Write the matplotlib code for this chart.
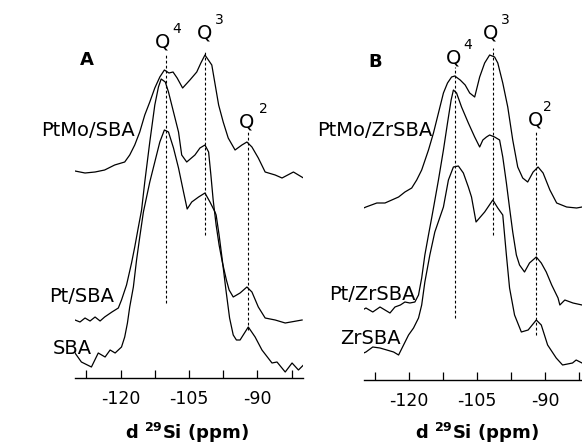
import matplotlib
matplotlib.use('Agg')
import matplotlib.pyplot as plt

# panel A spectra: chemical shift (ppm) and intensity (a.u.)
ptmo_sba_ppm = [-130.0, -127.8, -125.6, -123.5, -121.3, -119.1, -118.0, -116.9, -115.8, -114.7,
                -113.6, -112.5, -111.4, -110.4, -109.4, -108.5, -107.6, -106.4, -104.8, -103.3,
                -102.4, -101.5, -100.0, -98.5, -97.5, -96.4, -94.9, -93.4, -92.3, -91.2,
                -89.8, -88.3, -86.1, -84.6, -82.1, -79.9]
ptmo_sba_int = [207, 205, 206, 208, 213, 216, 223, 233, 246, 263,
                276, 290, 301, 308, 305, 306, 300, 290, 298, 306,
                315, 323, 313, 273, 256, 240, 228, 233, 236, 231,
                220, 206, 203, 200, 206, 200]

pt_sba_ppm = [-130.0, -128.9, -127.8, -126.7, -125.6, -124.5, -123.5, -121.9, -120.5, -119.8,
              -118.7, -117.6, -116.9, -116.1, -115.4, -114.7, -113.6, -112.5, -111.7, -111.1,
              -110.2, -109.5, -108.4, -107.3, -106.6, -105.5, -103.7, -102.6, -101.5, -100.7,
              -100.2, -99.7, -99.05, -98.4, -97.7, -96.8, -96.2, -95.3, -93.8, -92.3,
              -91.2, -89.8, -88.3, -86.1, -83.9, -80.2]
pt_sba_int = [58, 56, 60, 57, 61, 57, 61, 66, 70, 78,
              93, 115, 131, 151, 168, 196, 236, 273, 291, 299,
              296, 286, 266, 246, 223, 216, 223, 230, 233, 226,
              203, 178, 153, 133, 116, 98, 88, 81, 85, 91,
              86, 71, 60, 58, 55, 58]

sba_ppm = [-130.0, -128.6, -126.4, -124.9, -123.4, -122.3, -121.2, -119.8, -119.1, -118.5,
           -118.0, -117.2, -116.5, -115.8, -115.0, -113.6, -112.5, -111.4, -110.4, -109.5,
           -108.4, -107.3, -106.2, -105.4, -104.4, -102.9, -101.5, -100.4, -99.3, -99.05,
           -98.4, -97.7, -96.9, -96.1, -95.3, -94.6, -93.8, -92.0, -90.5, -89.0,
           -86.8, -85.7, -83.9, -82.4, -81.0, -79.9]
sba_int = [25, 16, 11, 25, 21, 28, 25, 31, 41, 55,
           71, 91, 118, 141, 166, 196, 216, 236, 248, 246,
           230, 210, 186, 169, 176, 181, 185, 176, 166, 163,
           143, 118, 88, 60, 43, 38, 38, 51, 41, 28,
           15, 16, 6, 15, 8, 13]

# panel B spectra
ptmo_zr_ppm = [-131.0, -129.5, -127.1, -125.3, -123.8, -122.3, -120.9, -119.4, -118.3, -117.2,
               -115.7, -114.6, -113.5, -112.4, -111.5, -110.6, -109.9, -108.7, -107.6, -106.6,
               -105.5, -104.4, -103.3, -102.2, -101.1, -100.4, -99.3, -98.2, -97.1, -96.0,
               -94.9, -93.8, -92.6, -91.5, -90.4, -88.9, -87.4, -85.2, -83.0, -81.8, -80.0]
ptmo_zr_int = [170, 173, 177, 177, 180, 183, 188, 192, 200, 210,
               230, 247, 267, 287, 297, 303, 304, 300, 295, 287,
               283, 303, 317, 325, 323, 317, 297, 273, 240, 213,
               202, 198, 208, 213, 207, 190, 177, 173, 172, 173, 172]

pt_zr_ppm = [-131.0, -129.5, -128.0, -126.4, -125.3, -124.2, -123.1, -121.9, -120.9, -119.8,
             -118.7, -117.9, -117.2, -116.5, -115.7, -115.0, -114.6, -113.5, -112.4, -111.5,
             -110.7, -110.2, -109.5, -108.4, -106.9, -106.2, -105.5, -104.4, -103.7, -102.9,
             -102.2, -101.1, -100.0, -99.3, -98.5, -97.8, -97.1, -96.3, -95.6, -94.5,
             -93.4, -91.9, -90.8, -89.7, -88.5, -87.1, -86.7, -85.6, -83.8, -81.8, -80.0]
pt_zr_int = [68, 72, 68, 73, 70, 67, 73, 75, 78, 77,
             78, 85, 102, 125, 145, 162, 172, 200, 230, 257,
             280, 290, 287, 273, 257, 250, 243, 233, 240, 243,
             245, 243, 240, 223, 197, 172, 148, 125, 115, 108,
             117, 123, 117, 108, 95, 82, 75, 80, 77, 75, 76]

zr_ppm = [-131.0, -129.5, -128.0, -126.4, -124.9, -123.4, -122.3, -121.2, -120.1, -119.0,
          -117.9, -117.2, -116.5, -115.4, -114.3, -112.4, -111.3, -110.2, -109.1, -108.0,
          -106.9, -106.2, -105.2, -103.3, -101.5, -100.4, -99.3, -98.5, -97.8, -96.7,
          -95.2, -93.7, -91.9, -90.8, -89.4, -87.5, -86.1, -83.9, -83.1, -81.8, -80.0]
zr_int = [25, 28, 33, 32, 30, 28, 25, 35, 45, 52,
          62, 75, 98, 125, 148, 173, 200, 213, 214, 207,
          193, 183, 158, 168, 180, 172, 165, 125, 92, 65,
          48, 50, 60, 55, 35, 22, 15, 17, 20, 17, 18]

tick_pos = [-127.5, -120, -112.5, -105, -97.5, -90, -82.5]
tick_lab = ['', '-120', '', '-105', '', '-90', '']

fig = plt.figure(figsize=(5.82, 4.45), dpi=100)
axA = fig.add_axes([75 / 582, 1 - 378 / 445, 228 / 582, 378 / 445])
axB = fig.add_axes([363.7 / 582, 1 - 380 / 445, 226.5 / 582, 380 / 445])


def style(ax, top):
    ax.set_xlim(-130, -80)
    ax.set_ylim(0, top)
    for s in ['top', 'left', 'right']:
        ax.spines[s].set_visible(False)
    ax.spines['bottom'].set_linewidth(1.0)
    ax.set_yticks([])
    ax.set_xticks(tick_pos)
    ax.set_xticklabels(tick_lab)
    ax.tick_params(axis='x', direction='in', length=6, width=0.9, pad=9, labelsize=12.5)
    ax.patch.set_visible(False)


style(axA, 378)
style(axB, 380)

lw = 0.9
axA.plot(ptmo_sba_ppm, ptmo_sba_int, color='black', lw=lw)
axA.plot(pt_sba_ppm, pt_sba_int, color='black', lw=lw)
axA.plot(sba_ppm, sba_int, color='black', lw=lw)
axB.plot(ptmo_zr_ppm, ptmo_zr_int, color='black', lw=lw)
axB.plot(pt_zr_ppm, pt_zr_int, color='black', lw=lw)
axB.plot(zr_ppm, zr_int, color='black', lw=lw)

dash = dict(color='black', lw=0.8, ls=(0, (2.5, 2)))
axA.plot([-110.1, -110.1], [75, 323], **dash)
axA.plot([-101.5, -101.5], [143, 328], **dash)
axA.plot([-92.1, -92.1], [48, 248], **dash)
axB.plot([-109.9, -109.9], [62, 313], **dash)
axB.plot([-101.4, -101.4], [145, 332], **dash)
axB.plot([-91.9, -91.9], [45, 248], **dash)

fs = 14
axA.text(-127.4, 318, 'A', fontsize=13, fontweight='bold', ha='center', va='center')
axA.text(-116.9, 248, 'PtMo/SBA', fontsize=fs, ha='right', va='center')
axA.text(-121.4, 81, 'Pt/SBA', fontsize=fs, ha='right', va='center')
axA.text(-126.3, 30, 'SBA', fontsize=fs, ha='right', va='center')
axA.text(-110.7, 336, 'Q', fontsize=fs, ha='center', va='center')
axA.text(-107.6, 349, '4', fontsize=10, ha='center', va='center')
axA.text(-101.5, 345, 'Q', fontsize=fs, ha='center', va='center')
axA.text(-98.4, 358, '3', fontsize=10, ha='center', va='center')
axA.text(-92.3, 256, 'Q', fontsize=fs, ha='center', va='center')
axA.text(-88.7, 269, '2', fontsize=10, ha='center', va='center')

axB.text(-127.4, 318, 'B', fontsize=13, fontweight='bold', ha='center', va='center')
axB.text(-114.8, 250, 'PtMo/ZrSBA', fontsize=fs, ha='right', va='center')
axB.text(-118.5, 85, 'Pt/ZrSBA', fontsize=fs, ha='right', va='center')
axB.text(-121.8, 42, 'ZrSBA', fontsize=fs, ha='right', va='center')
axB.text(-110.1, 322, 'Q', fontsize=fs, ha='center', va='center')
axB.text(-107.1, 335, '4', fontsize=10, ha='center', va='center')
axB.text(-102.0, 347, 'Q', fontsize=fs, ha='center', va='center')
axB.text(-98.7, 360, '3', fontsize=10, ha='center', va='center')
axB.text(-92.0, 260, 'Q', fontsize=fs, ha='center', va='center')
axB.text(-89.5, 273, '2', fontsize=10, ha='center', va='center')

xlab = r'd $^{\mathbf{29}}$Si (ppm)'
fig.text(187 / 582, 1 - 433 / 445, xlab, fontsize=13, fontweight='bold', ha='center', va='center')
fig.text(477 / 582, 1 - 433 / 445, xlab, fontsize=13, fontweight='bold', ha='center', va='center')

fig.savefig('out.png', dpi=100)
